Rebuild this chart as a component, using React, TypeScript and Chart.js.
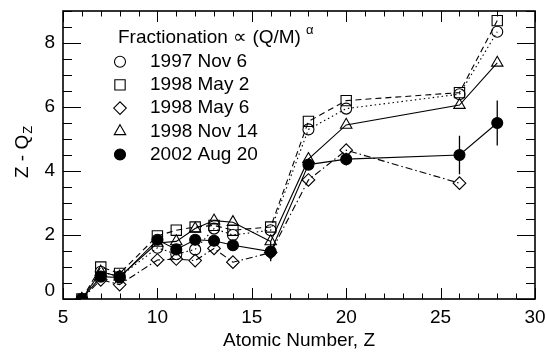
import React, { useEffect, useRef } from 'react';
import { Chart, registerables } from 'chart.js';
import { drawPoint } from 'chart.js/helpers';

Chart.register(...registerables);

// Atomic numbers of the measured elements
const atomicNumbers = [6, 7, 8, 10, 11, 12, 13, 14, 16, 18, 20, 26, 28];

// Z - Q_Z for each event
const nov1997 = [0, 0.85, 0.7, 1.6, 1.4, 1.55, 2.2, 2.0, 2.15, 5.3, 5.95, 6.4, 8.35];
const may1998a = [0, 1.0, 0.8, 1.97, 2.15, 2.25, 2.3, 2.15, 2.25, 5.55, 6.2, 6.45, 8.7];
const may1998b = [0, 0.6, 0.45, 1.22, 1.25, 1.2, 1.58, 1.15, 1.45, 3.72, 4.65, 3.62, null];
const nov1998 = [0, 0.85, 0.7, 1.75, 1.8, 2.2, 2.45, 2.4, 1.8, 4.37, 5.44, 6.06, 7.38];
const aug2002 = [0, 0.7, 0.67, 1.85, 1.55, 1.85, 1.82, 1.68, 1.48, 4.2, 4.37, 4.5, 5.5];
const aug2002Err = [0, 0.05, 0.05, 0.1, 0.1, 0.1, 0.1, 0.1, 0.3, 0.15, 0.2, 0.6, 0.7];

const seriesLabels = ['1997 Nov 6', '1998 May 2', '1998 May 6', '1998 Nov 14', '2002 Aug 20'];
const keyTitle = 'Fractionation \u221D (Q/M)';
const keyExponent = '\u03B1';
const xTitle = 'Atomic Number, Z';

const FONT = '"Liberation Sans", Arial, Helvetica, sans-serif';

const toPoints = (vals: (number | null)[]) =>
  atomicNumbers.map((z, i) => ({ x: z, y: vals[i] }));

// Box frame with inward ticks on all four sides
const framePlugin = {
  id: 'frameTicks',
  afterDraw(chart: any) {
    const { ctx, chartArea, scales } = chart;
    const { left, right, top, bottom } = chartArea;
    const xs = scales.x;
    const ys = scales.y;
    ctx.save();
    ctx.strokeStyle = '#000';
    ctx.lineWidth = 1;
    ctx.beginPath();
    for (let v = 5; v <= 30; v += 1) {
      const px = Math.round(xs.getPixelForValue(v)) + 0.5;
      const len = v % 5 === 0 ? 11 : 5.5;
      ctx.moveTo(px, bottom);
      ctx.lineTo(px, bottom - len);
      ctx.moveTo(px, top);
      ctx.lineTo(px, top + len);
    }
    for (let v = 0; v <= 9; v += 0.5) {
      const py = Math.round(ys.getPixelForValue(v)) + 0.5;
      const len = v % 2 === 0 ? 18 : 9;
      ctx.moveTo(left, py);
      ctx.lineTo(left + len, py);
      ctx.moveTo(right, py);
      ctx.lineTo(right - len, py);
    }
    ctx.stroke();
    ctx.lineWidth = 1.6;
    ctx.strokeRect(left, top, right - left, bottom - top);
    ctx.restore();
  },
};

// Vertical error bars for the 2002 Aug 20 event
const errorBarPlugin = {
  id: 'errorBars',
  afterDatasetsDraw(chart: any) {
    const { ctx, scales } = chart;
    ctx.save();
    ctx.strokeStyle = '#000';
    ctx.lineWidth = 1.3;
    ctx.beginPath();
    atomicNumbers.forEach((z, i) => {
      const e = aug2002Err[i];
      if (!e) return;
      const px = scales.x.getPixelForValue(z);
      ctx.moveTo(px, scales.y.getPixelForValue(aug2002[i] + e));
      ctx.lineTo(px, scales.y.getPixelForValue(aug2002[i] - e));
    });
    ctx.stroke();
    ctx.restore();
  },
};

// Y-axis title with subscript, and the key in the upper left
const annotationPlugin = {
  id: 'annotations',
  afterDraw(chart: any) {
    const { ctx, chartArea } = chart;
    ctx.save();
    ctx.fillStyle = '#000';

    // y title: Z - Q_Z
    const main = 'Z - Q';
    ctx.font = `19px ${FONT}`;
    const mw = ctx.measureText(main).width;
    ctx.font = `13px ${FONT}`;
    const sw = ctx.measureText('Z').width;
    ctx.translate(21, (chartArea.top + chartArea.bottom) / 2 - 3);
    ctx.rotate(-Math.PI / 2);
    ctx.textBaseline = 'alphabetic';
    ctx.textAlign = 'left';
    const x0 = -(mw + sw + 1) / 2;
    ctx.font = `19px ${FONT}`;
    ctx.fillText(main, x0, 7);
    ctx.font = `13px ${FONT}`;
    ctx.fillText('Z', x0 + mw + 1, 11);
    ctx.setTransform(1, 0, 0, 1, 0, 0);

    // key
    ctx.textBaseline = 'middle';
    ctx.font = `19px ${FONT}`;
    ctx.fillText(keyTitle, 118, 38);
    const tw = ctx.measureText(keyTitle).width;
    ctx.font = `13px ${FONT}`;
    ctx.fillText(keyExponent, 118 + tw + 5, 30);

    chart.data.datasets.forEach((ds: any, i: number) => {
      const yy = 61.7 + i * 23.2;
      ctx.fillStyle = ds.pointBackgroundColor;
      ctx.strokeStyle = ds.pointBorderColor;
      ctx.lineWidth = ds.pointBorderWidth;
      drawPoint(ctx, {
        pointStyle: ds.pointStyle,
        radius: ds.pointRadius,
        borderWidth: ds.pointBorderWidth,
        rotation: 0,
      } as any, 120, yy);
      ctx.fillStyle = '#000';
      ctx.font = `19px ${FONT}`;
      ctx.fillText(seriesLabels[i], 150, yy);
    });
    ctx.restore();
  },
};

const makeSet = (
  label: string,
  vals: (number | null)[],
  pointStyle: string,
  radius: number,
  dash: number[],
  filled = false,
) => ({
  label,
  data: toPoints(vals),
  borderColor: '#000',
  backgroundColor: filled ? '#000' : 'rgba(0,0,0,0)',
  borderWidth: 1.1,
  borderDash: dash,
  pointStyle,
  pointRadius: radius,
  pointBorderWidth: 1.1,
  pointBorderColor: '#000',
  pointBackgroundColor: filled ? '#000' : 'rgba(0,0,0,0)',
  tension: 0,
  spanGaps: false,
});

export default function App() {
  const canvasRef = useRef<HTMLCanvasElement | null>(null);

  useEffect(() => {
    if (!canvasRef.current) return;
    const chart = new Chart(canvasRef.current, {
      type: 'line',
      data: {
        datasets: [
          makeSet(seriesLabels[0], nov1997, 'circle', 5.5, [1.5, 3]),
          makeSet(seriesLabels[1], may1998a, 'rect', 7.3, [6, 4]),
          makeSet(seriesLabels[2], may1998b, 'rectRot', 6.3, [7, 3, 1.5, 3]),
          makeSet(seriesLabels[3], nov1998, 'triangle', 6.6, []),
          makeSet(seriesLabels[4], aug2002, 'circle', 5.5, [], true),
        ] as any,
      },
      options: {
        responsive: false,
        animation: false,
        layout: { padding: { left: 0, right: 11, top: 11, bottom: 0 } },
        plugins: {
          legend: { display: false },
          tooltip: { enabled: false },
        },
        scales: {
          x: {
            type: 'linear',
            min: 5,
            max: 30,
            grid: { display: false, drawTicks: false },
            border: { display: false },
            ticks: {
              stepSize: 5,
              color: '#000',
              font: { family: FONT, size: 19 },
              padding: 7,
              maxRotation: 0,
              autoSkip: false,
            },
            title: {
              display: true,
              text: xTitle,
              color: '#000',
              font: { family: FONT, size: 19 },
              padding: { top: 0, bottom: 2 },
            },
            afterFit(scale: any) {
              scale.height = 55;
              scale.paddingLeft = 0;
              scale.paddingRight = 0;
            },
          },
          y: {
            type: 'linear',
            min: 0,
            max: 9,
            grid: { display: false, drawTicks: false },
            border: { display: false },
            ticks: {
              stepSize: 2,
              includeBounds: false,
              color: '#000',
              font: { family: FONT, size: 19, lineHeight: 0.84 },
              padding: 8,
              callback: (v: any) => {
                if (v % 2 !== 0) return null;
                // lift the zero label clear of the x axis labels
                return v === 0 ? ['0', ''] : String(v);
              },
            },
            afterFit(scale: any) {
              scale.width = 63;
              scale.paddingTop = 0;
              scale.paddingBottom = 0;
            },
          },
        },
      } as any,
      plugins: [errorBarPlugin, framePlugin, annotationPlugin],
    });
    return () => chart.destroy();
  }, []);

  return (
    <div style={{ position: 'absolute', left: 0, top: 0, width: 546, height: 354, background: '#fff' }}>
      <canvas ref={canvasRef} width={546} height={354} style={{ width: 546, height: 354 }} />
    </div>
  );
}
